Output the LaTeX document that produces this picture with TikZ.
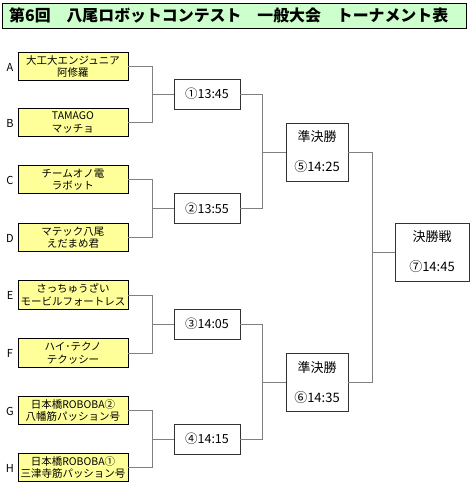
\documentclass[tikz,border=0pt]{standalone}
\usepackage{fontspec}
\setmainfont{Noto Sans CJK JP}
\definecolor{titlegreen}{HTML}{CCFFCC}
\definecolor{teamyellow}{HTML}{FFFF99}
\definecolor{linegray}{HTML}{808080}
\begin{document}
\begin{tikzpicture}[x=1pt,y=-1pt,
  team/.style={draw=black,line width=0.9pt,fill=teamyellow,minimum width=110pt,minimum height=28.5pt,inner sep=0pt,align=center,font=\fontsize{10.5}{12.5}\selectfont},
  round/.style={draw=black!80,line width=0.9pt,fill=white,minimum width=66pt,minimum height=30pt,inner sep=0pt,font=\fontsize{12.5}{14}\selectfont},
  semi/.style={draw=black!80,line width=0.9pt,fill=white,minimum width=62pt,minimum height=58pt,inner sep=0pt,align=center,font=\fontsize{13}{30}\selectfont},
  fin/.style={draw=black!80,line width=0.9pt,fill=white,minimum width=74pt,minimum height=58pt,inner sep=0pt,align=center,font=\fontsize{13}{30}\selectfont},
  lbl/.style={font=\fontsize{11}{12}\selectfont,inner sep=0pt},
  conn/.style={draw=linegray,line width=0.9pt}]
\useasboundingbox (0,0) rectangle (470,483);
\fill[white] (0,0) rectangle (470,483);
% title
\node[draw=black,line width=0.9pt,fill=titlegreen,minimum width=464pt,minimum height=25pt,inner sep=0pt] (title) at (234,15.5) {};
\node[anchor=west,inner sep=0pt,font=\bfseries\fontsize{15.9}{18}\selectfont] (ttext) at (9,15.5) {第6回　八尾ロボットコンテスト　一般大会　トーナメント表};
% teams
\node[team] (A) at (73,66.5) {大工大エンジュニア\\阿修羅};
\node[team] (B) at (73,122.5) {TAMAGO\\マッチョ};
\node[team] (C) at (73,179.5) {チームオノ電\\ラボット};
\node[team] (D) at (73,237.5) {マテック八尾\\えだまめ君};
\node[team] (E) at (73,295) {さっちゅうざい\\モービルフォートレス};
\node[team] (F) at (73,353) {ハイ･テクノ\\テクッシー};
\node[team] (G) at (73,410.5) {日本橋ROBOBA②\\八幡筋パッション号};
\node[team] (H) at (73,467.5) {日本橋ROBOBA①\\三津寺筋パッション号};
\node[lbl] (lA) at (10,67) {A};
\node[lbl] (lB) at (10,123) {B};
\node[lbl] (lC) at (10,180) {C};
\node[lbl] (lD) at (10,238) {D};
\node[lbl] (lE) at (10,295) {E};
\node[lbl] (lF) at (10,353) {F};
\node[lbl] (lG) at (10,411) {G};
\node[lbl] (lH) at (10,468) {H};
% round 1
\node[round] (R1) at (207,94) {①13:45};
\node[round] (R2) at (207,208.5) {②13:55};
\node[round] (R3) at (207,324) {③14:05};
\node[round] (R4) at (207,439) {④14:15};
% semis
\node[semi] (S1) at (317,152) {準決勝\\⑤14:25};
\node[semi] (S2) at (317,382.5) {準決勝\\⑥14:35};
% final
\node[fin] (FN) at (432,252) {決勝戦\\⑦14:45};
% connectors
\draw[conn] (A.east) -- ++(24,0) |- (B.east);
\draw[conn] (R1.west) -- ++(-22,0);
\draw[conn] (C.east) -- ++(24,0) |- (D.east);
\draw[conn] (R2.west) -- ++(-22,0);
\draw[conn] (E.east) -- ++(24,0) |- (F.east);
\draw[conn] (R3.west) -- ++(-22,0);
\draw[conn] (G.east) -- ++(24,0) |- (H.east);
\draw[conn] (R4.west) -- ++(-22,0);
\draw[conn] (R1.east) -- ++(22,0) |- (R2.east);
\draw[conn] (S1.west) -- ++(-24,0);
\draw[conn] (R3.east) -- ++(22,0) |- (R4.east);
\draw[conn] (S2.west) -- ++(-24,0);
\draw[conn] (S1.east) -- ++(24,0) |- (S2.east);
\draw[conn] (FN.west) -- ++(-23,0);
\end{tikzpicture}
\end{document}
